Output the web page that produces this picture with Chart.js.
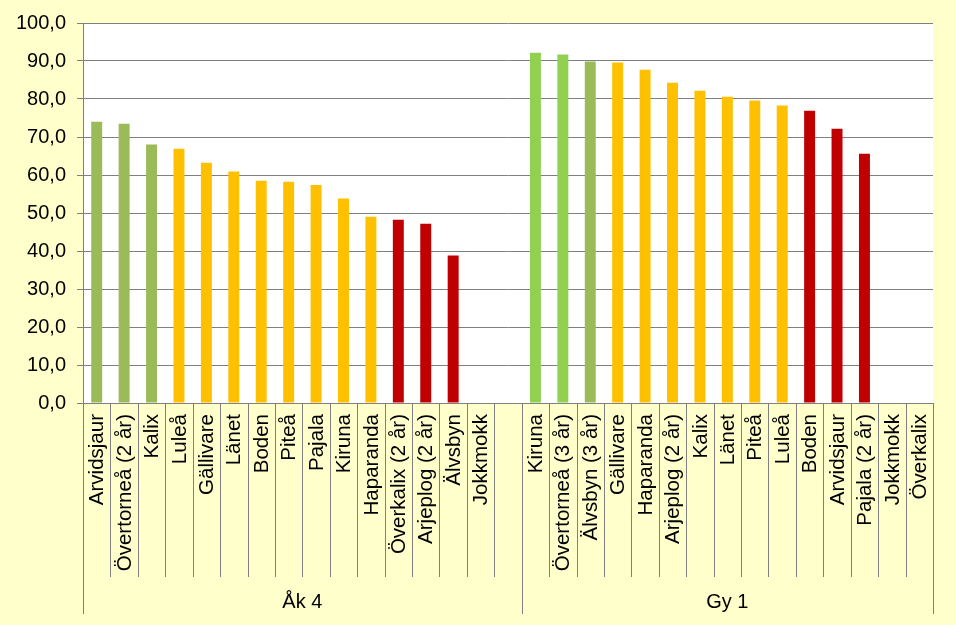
<!DOCTYPE html>
<html>
<head>
<meta charset="utf-8">
<script src="https://cdn.jsdelivr.net/npm/chart.js@4.4.1/dist/chart.umd.min.js"></script>
<style>
  html, body { margin: 0; padding: 0; background: #FFFFCC; }
  #wrap { width: 956px; height: 625px; position: relative; }
</style>
</head>
<body>
<div id="wrap"><canvas id="c" width="956" height="625"></canvas></div>
<script>
// ---- data ----
const groupNames = ['Åk 4', 'Gy 1'];
const ak4Labels = ['Arvidsjaur', 'Övertorneå (2 år)', 'Kalix', 'Luleå', 'Gällivare', 'Länet', 'Boden', 'Piteå', 'Pajala', 'Kiruna', 'Haparanda', 'Överkalix (2 år)', 'Arjeplog (2 år)', 'Älvsbyn', 'Jokkmokk', ''];
const ak4Values = [74.0, 73.5, 68.0, 66.9, 63.2, 60.9, 58.5, 58.2, 57.4, 53.8, 49.0, 48.2, 47.2, 38.8, null, null];
const ak4Level  = ['olive', 'olive', 'olive', 'mid', 'mid', 'mid', 'mid', 'mid', 'mid', 'mid', 'mid', 'low', 'low', 'low', null, null];
const gy1Labels = ['Kiruna', 'Övertorneå (3 år)', 'Älvsbyn (3 år)', 'Gällivare', 'Haparanda', 'Arjeplog (2 år)', 'Kalix', 'Länet', 'Piteå', 'Luleå', 'Boden', 'Arvidsjaur', 'Pajala (2 år)', 'Jokkmokk', 'Överkalix'];
const gy1Values = [92.2, 91.7, 89.9, 89.6, 87.7, 84.3, 82.2, 80.6, 79.6, 78.3, 76.9, 72.2, 65.6, null, null];
const gy1Level  = ['high', 'high', 'olive', 'mid', 'mid', 'mid', 'mid', 'mid', 'mid', 'mid', 'low', 'low', 'low', null, null];
const yTicks = [0, 10, 20, 30, 40, 50, 60, 70, 80, 90, 100];

// ---- styles ----
const levelColors = { high: '#92D050', olive: '#9BBB59', mid: '#FFC000', low: '#C00000' };
const FONT = '"Liberation Sans", Arial, sans-serif';

const labels = ak4Labels.concat(gy1Labels);
const values = ak4Values.concat(gy1Values);
const colors = ak4Level.concat(gy1Level).map(l => l ? levelColors[l] : 'rgba(0,0,0,0)');
const groups = [
  { name: groupNames[0], start: 0, count: ak4Labels.length },
  { name: groupNames[1], start: ak4Labels.length, count: gy1Labels.length }
];

const bgPlugin = {
  id: 'bg',
  beforeDraw(chart) {
    const { ctx, chartArea: a } = chart;
    ctx.save();
    ctx.fillStyle = '#FFFFCC';
    ctx.fillRect(0, 0, chart.width, chart.height);
    ctx.fillStyle = '#FFFFFF';
    ctx.fillRect(a.left, a.top, a.right - a.left, a.bottom - a.top);
    ctx.restore();
  }
};

const axisPlugin = {
  id: 'multiAxis',
  afterDraw(chart) {
    const { ctx, chartArea: a } = chart;
    const x = chart.scales.x;
    const half = (x.getPixelForValue(1) - x.getPixelForValue(0)) / 2;
    ctx.save();
    ctx.strokeStyle = '#808080';
    ctx.lineWidth = 1;
    const y0 = a.bottom;
    // axis line
    ctx.beginPath();
    ctx.moveTo(a.left, Math.round(y0) + 0.5);
    ctx.lineTo(a.right, Math.round(y0) + 0.5);
    ctx.stroke();
    groups.forEach(g => {
      for (let i = 0; i <= g.count; i++) {
        const px = Math.round(x.getPixelForValue(g.start + i) - half) + 0.5;
        const isEdge = (i === 0 || i === g.count);
        ctx.beginPath();
        ctx.moveTo(px, y0);
        ctx.lineTo(px, isEdge ? y0 + 211 : y0 + 174);
        ctx.stroke();
      }
      // group label
      const l = x.getPixelForValue(g.start) - half;
      const r = x.getPixelForValue(g.start + g.count - 1) + half;
      ctx.fillStyle = '#000000';
      ctx.font = '20px ' + FONT;
      ctx.textAlign = 'center';
      ctx.textBaseline = 'middle';
      ctx.fillText(g.name, (l + r) / 2, y0 + 199);
    });
    // category labels (rotated)
    ctx.font = '20.5px ' + FONT;
    ctx.fillStyle = '#000000';
    labels.forEach((lab, i) => {
      if (!lab) return;
      const px = x.getPixelForValue(i);
      ctx.save();
      ctx.translate(px + 1, y0 + 11);
      ctx.rotate(-Math.PI / 2);
      ctx.textAlign = 'right';
      ctx.textBaseline = 'middle';
      ctx.fillText(lab, 0, 0);
      ctx.restore();
    });
    ctx.restore();
  }
};

new Chart(document.getElementById('c'), {
  type: 'bar',
  data: {
    labels: labels,
    datasets: [{
      data: values,
      backgroundColor: colors,
      borderWidth: 0,
      barPercentage: 0.4,
      categoryPercentage: 1.0
    }]
  },
  options: {
    responsive: false,
    animation: false,
    devicePixelRatio: 1,
    layout: { padding: { top: 22, right: 23, left: 0, bottom: 0 } },
    plugins: { legend: { display: false }, tooltip: { enabled: false } },
    scales: {
      x: {
        type: 'category',
        offset: true,
        grid: { display: false },
        border: { display: false },
        ticks: { display: false },
        afterFit(scale) { scale.height = 222; }
      },
      y: {
        min: 0,
        max: 100,
        afterBuildTicks(scale) { scale.ticks = yTicks.map(v => ({ value: v })); },
        grid: { color: '#808080', lineWidth: 1, tickLength: 6, drawTicks: true },
        border: { display: true, color: '#808080', width: 1 },
        ticks: {
          padding: 11,
          color: '#000000',
          font: { family: FONT, size: 20 },
          callback: v => v.toFixed(1).replace('.', ',')
        },
        afterFit(scale) { scale.width = 83; }
      }
    }
  },
  plugins: [bgPlugin, axisPlugin]
});
</script>
</body>
</html>
